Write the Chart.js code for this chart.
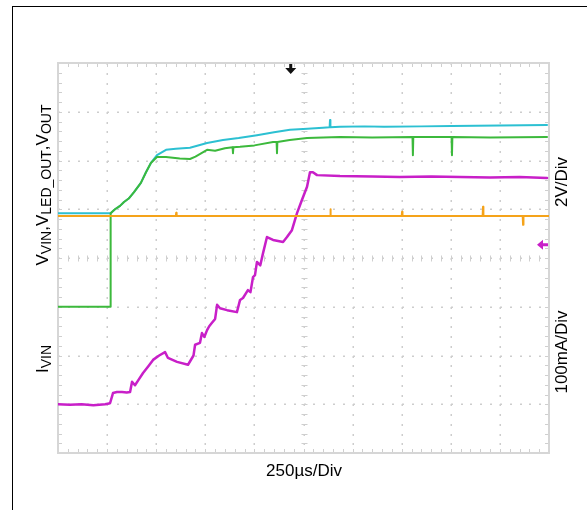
<!DOCTYPE html>
<html>
<head>
<meta charset="utf-8">
<script src="https://cdn.jsdelivr.net/npm/chart.js@4/dist/chart.umd.min.js"></script>
<style>
  html, body { margin: 0; padding: 0; background: #fff; }
  #wrap { position: relative; width: 587px; height: 510px; overflow: hidden; font-family: "Liberation Sans", Arial, sans-serif; color: #000; }
  #frame { position: absolute; left: 12px; top: 6px; width: 700px; height: 700px; border-left: 1px solid #000; border-top: 1px solid #000; }
  canvas { position: absolute; left: 0; top: 0; }
  .lbl { position: absolute; white-space: nowrap; font-size: 17px; line-height: 1; }
  .rot { transform: translate(-50%, -50%) rotate(-90deg); }
  .lbl sub { font-size: 14px; vertical-align: -3px; line-height: 0; }
</style>
</head>
<body>
<div id="wrap">
  <div id="frame"></div>
  <canvas id="c" width="587" height="510"></canvas>
  <div class="lbl rot" style="left:42px; top:185px;">V<sub>VIN</sub>,V<sub>LED_OUT</sub>,V<sub>OUT</sub></div>
  <div class="lbl rot" style="left:42px; top:359px;">I<sub>VIN</sub></div>
  <div class="lbl rot" style="left:561px; top:182px;">2V/Div</div>
  <div class="lbl rot" style="left:561px; top:352px;">100mA/Div</div>
  <div class="lbl" style="left:304px; top:470px; transform: translate(-50%,-50%);">250µs/Div</div>
</div>
<script>
// Time axis in µs (250 µs/div, 10 divisions); vertical values in screen divisions (8 divisions)
const xDivTicks = [0, 250, 500, 750, 1000, 1250, 1500, 1750, 2000, 2250, 2500];
const yDivTicks = [0, 1, 2, 3, 4, 5, 6, 7, 8];

// Orange trace
const orangeT = [0, 600, 602, 604, 1385, 1387, 1389, 1750, 1752, 1754, 2162, 2164, 2166, 2366, 2368, 2370, 2500];
const orangeV = [4.86, 4.86, 4.93, 4.86, 4.86, 5.0, 4.86, 4.86, 4.95, 4.86, 4.86, 5.05, 4.86, 4.86, 4.68, 4.86, 4.86];

// Green trace
const greenT = [0, 267, 268, 290, 316, 336, 360, 387, 422, 448, 473, 504, 550, 620, 672, 700, 759, 800, 850, 889, 891, 893, 927, 1000, 1095, 1113, 1115, 1117, 1180, 1268, 1350, 1436, 1600, 1805, 1807, 1809, 2004, 2006, 2008, 2200, 2490];
const greenV = [3.0, 3.0, 4.92, 5.0, 5.07, 5.15, 5.22, 5.35, 5.54, 5.76, 5.95, 6.07, 6.07, 6.04, 6.03, 6.08, 6.22, 6.2, 6.25, 6.27, 6.15, 6.27, 6.28, 6.31, 6.38, 6.38, 6.15, 6.38, 6.42, 6.46, 6.47, 6.48, 6.47, 6.48, 6.11, 6.48, 6.48, 6.11, 6.48, 6.47, 6.48];

// Cyan trace
const cyanT = [0, 268, 290, 316, 336, 360, 387, 422, 448, 473, 504, 550, 600, 672, 759, 840, 920, 1013, 1100, 1181, 1270, 1349, 1383, 1385, 1387, 1436, 1560, 1660, 1850, 2006, 2250, 2490];
const cyanV = [4.92, 4.92, 5.0, 5.07, 5.15, 5.22, 5.35, 5.54, 5.76, 5.95, 6.11, 6.22, 6.24, 6.26, 6.36, 6.42, 6.46, 6.52, 6.58, 6.63, 6.65, 6.67, 6.68, 6.83, 6.68, 6.69, 6.7, 6.69, 6.7, 6.71, 6.72, 6.73];

// Magenta trace (input current)
const magT = [0, 60, 120, 180, 240, 265, 280, 300, 326, 350, 367, 377, 392, 410, 433, 460, 484, 515, 545, 560, 606, 662, 690, 698, 723, 733, 745, 759, 770, 784, 800, 810, 825, 861, 911, 927, 942, 967, 980, 993, 1003, 1013, 1030, 1044, 1064, 1095, 1146, 1166, 1191, 1217, 1242, 1268, 1283, 1298, 1319, 1436, 1600, 1741, 1900, 2047, 2200, 2350, 2490];
const magV = [1.0, 0.99, 1.0, 0.98, 1.0, 1.02, 1.23, 1.25, 1.25, 1.24, 1.25, 1.46, 1.39, 1.5, 1.64, 1.78, 1.91, 2.0, 2.07, 1.95, 1.87, 1.81, 2.0, 2.22, 2.26, 2.46, 2.38, 2.52, 2.6, 2.67, 2.75, 3.04, 2.97, 2.93, 2.89, 3.14, 3.18, 3.34, 3.3, 3.61, 3.65, 3.92, 3.85, 4.1, 4.43, 4.37, 4.33, 4.43, 4.57, 4.92, 5.19, 5.46, 5.76, 5.76, 5.7, 5.68, 5.67, 5.66, 5.67, 5.66, 5.65, 5.66, 5.64];

// Markers
const triggerT = [1185];
const ch4RefDiv = [4.27];

function pts(t, v) { return t.map((x, i) => ({ x: x, y: v[i] })); }

const scopeGrid = {
  id: 'scopeGrid',
  beforeDatasetsDraw(chart) {
    const ctx = chart.ctx, xs = chart.scales.x, ys = chart.scales.y;
    const L = xs.getPixelForValue(xDivTicks[0]), R = xs.getPixelForValue(xDivTicks[xDivTicks.length - 1]);
    const B = ys.getPixelForValue(yDivTicks[0]), T = ys.getPixelForValue(yDivTicks[yDivTicks.length - 1]);
    ctx.save();
    // dotted grid
    ctx.fillStyle = '#cdcdcd';
    for (let i = 1; i < xDivTicks.length - 1; i++) {
      const px = Math.round(xs.getPixelForValue(xDivTicks[i]));
      for (let j = 0; j < (yDivTicks.length - 1) * 5; j++) {
        const py = T + (B - T) * j / ((yDivTicks.length - 1) * 5);
        ctx.fillRect(px - 0.5, Math.round(py), 1.5, 2);
      }
    }
    for (let i = 1; i < yDivTicks.length - 1; i++) {
      const py = Math.round(ys.getPixelForValue(yDivTicks[i]));
      for (let j = 0; j < (xDivTicks.length - 1) * 5; j++) {
        const px = L + (R - L) * j / ((xDivTicks.length - 1) * 5);
        ctx.fillRect(Math.round(px), py - 0.5, 2, 1.5);
      }
    }
    // center axis ticks and frame ticks
    ctx.strokeStyle = '#cfcfcf';
    ctx.lineWidth = 1;
    const cx = Math.round(xs.getPixelForValue(xDivTicks[5])) + 0.5;
    const cy = Math.round(ys.getPixelForValue(yDivTicks[4])) + 0.5;
    ctx.beginPath();
    for (let j = 1; j < (xDivTicks.length - 1) * 5; j++) {
      const px = Math.round(L + (R - L) * j / ((xDivTicks.length - 1) * 5)) + 0.5;
      ctx.moveTo(px, cy - 3); ctx.lineTo(px, cy + 3);
      ctx.moveTo(px, T); ctx.lineTo(px, T + 4);
      ctx.moveTo(px, B); ctx.lineTo(px, B - 4);
    }
    for (let j = 1; j < (yDivTicks.length - 1) * 5; j++) {
      const py = Math.round(T + (B - T) * j / ((yDivTicks.length - 1) * 5)) + 0.5;
      ctx.moveTo(cx - 3, py); ctx.lineTo(cx + 3, py);
      ctx.moveTo(L, py); ctx.lineTo(L + 4, py);
      ctx.moveTo(R, py); ctx.lineTo(R - 4, py);
    }
    ctx.stroke();
    // frame
    ctx.strokeStyle = '#d6d6d6';
    ctx.lineWidth = 2;
    ctx.strokeRect(L, T, R - L, B - T);
    ctx.restore();
  },
  afterDatasetsDraw(chart) {
    const ctx = chart.ctx, xs = chart.scales.x, ys = chart.scales.y;
    ctx.save();
    // trigger marker (black down arrow at top)
    const tx = xs.getPixelForValue(triggerT[0]), ty = ys.getPixelForValue(yDivTicks[yDivTicks.length - 1]);
    ctx.fillStyle = '#111';
    ctx.beginPath();
    ctx.rect(tx - 1.5, ty + 1, 3, 5);
    ctx.moveTo(tx - 5.5, ty + 5); ctx.lineTo(tx + 5.5, ty + 5); ctx.lineTo(tx, ty + 11); ctx.closePath();
    ctx.fill();
    // channel reference marker (magenta left arrow at right edge)
    const rx = xs.getPixelForValue(xDivTicks[xDivTicks.length - 1]), ry = ys.getPixelForValue(ch4RefDiv[0]);
    ctx.fillStyle = '#c81fc8';
    ctx.beginPath();
    ctx.rect(rx - 6, ry - 1.5, 5, 3);
    ctx.moveTo(rx - 6, ry - 5); ctx.lineTo(rx - 6, ry + 5); ctx.lineTo(rx - 12, ry); ctx.closePath();
    ctx.fill();
    ctx.restore();
  }
};

new Chart(document.getElementById('c'), {
  type: 'line',
  data: {
    datasets: [
      { data: pts(orangeT, orangeV), borderColor: '#f5a31a', borderWidth: 2 },
      { data: pts(greenT, greenV), borderColor: '#3cb93c', borderWidth: 2 },
      { data: pts(cyanT, cyanV), borderColor: '#2cc0d2', borderWidth: 2 },
      { data: pts(magT, magV), borderColor: '#c81fc8', borderWidth: 2.5 }
    ]
  },
  options: {
    responsive: false,
    animation: false,
    events: [],
    layout: { padding: { left: 58, right: 38, top: 63, bottom: 57 } },
    elements: { point: { radius: 0 }, line: { tension: 0, borderJoinStyle: 'round', borderCapStyle: 'round' } },
    plugins: { legend: { display: false }, tooltip: { enabled: false } },
    scales: {
      x: { type: 'linear', min: xDivTicks[0], max: xDivTicks[xDivTicks.length - 1], display: false },
      y: { type: 'linear', min: yDivTicks[0], max: yDivTicks[yDivTicks.length - 1], display: false }
    }
  },
  plugins: [scopeGrid]
});
</script>
</body>
</html>
